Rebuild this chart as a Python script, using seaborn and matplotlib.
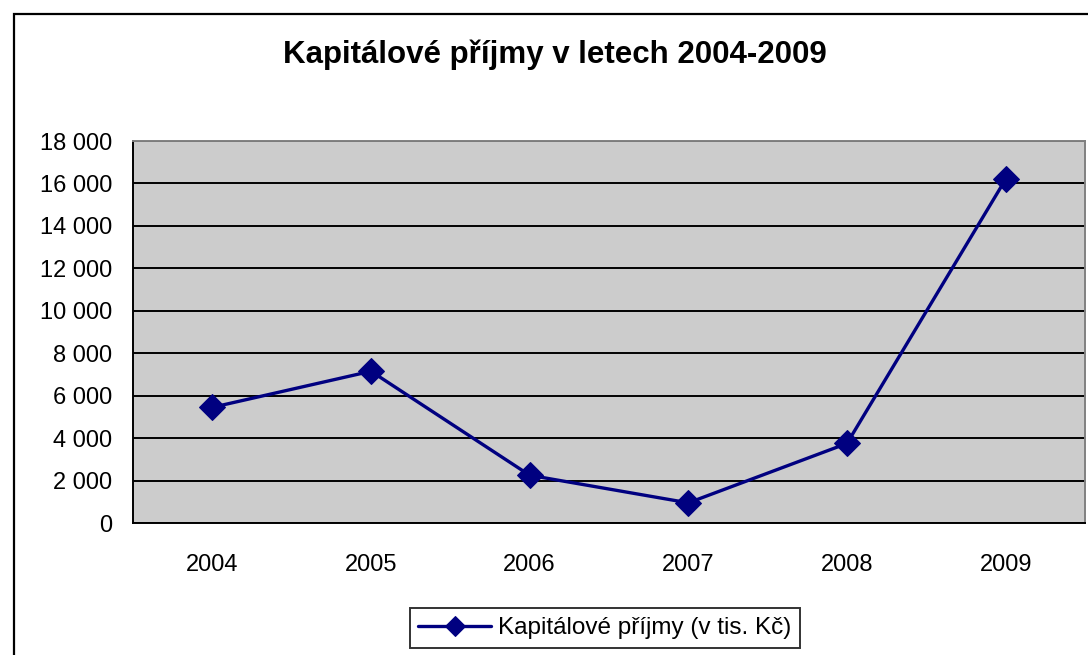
import numpy as np
import pandas as pd
import matplotlib
matplotlib.use("Agg")
import matplotlib.pyplot as plt
import seaborn as sns
from matplotlib.patches import Rectangle

# Data
years = ["2004", "2005", "2006", "2007", "2008", "2009"]
income = [5450, 7150, 2250, 950, 3750, 16200]
series_name = "Kapitálové příjmy (v tis. Kč)"
title = "Kapitálové příjmy v letech 2004-2009"
y_ticks = [0, 2000, 4000, 6000, 8000, 10000, 12000, 14000, 16000, 18000]

df = pd.DataFrame({"pos": np.arange(len(years)), "value": income, "serie": series_name})

sns.set_style("white")
plt.rcParams["font.family"] = ["Liberation Sans", "DejaVu Sans"]
plt.rcParams["text.color"] = "black"
plt.rcParams["xtick.color"] = "black"
plt.rcParams["ytick.color"] = "black"

fig = plt.figure(figsize=(10.88, 6.55), dpi=100)
ax = fig.add_axes([133 / 1088, 1 - 523 / 655, (1085 - 133) / 1088, (523 - 141) / 655])

# outer chart frame
fig.patches.append(Rectangle((14 / 1088, -0.05), 1.1, 1 - 14 / 655 + 0.05,
                             transform=fig.transFigure, fill=False,
                             edgecolor="black", linewidth=1.6, zorder=0))

ax.set_facecolor("#CCCCCC")
sns.lineplot(data=df, x="pos", y="value", hue="serie", palette=["#000080"],
             marker="D", markersize=13, markeredgecolor="#000080",
             linewidth=2.4, ax=ax, zorder=3)

ax.set_xlim(-0.5, len(years) - 0.5)
ax.set_ylim(0, 18000)
ax.set_yticks(y_ticks)
ax.set_yticklabels([f"{v:,}".replace(",", " ") for v in y_ticks], fontsize=17)
ax.set_xticks(np.arange(len(years)))
ax.set_xticklabels(years, fontsize=17)
ax.set_xticks(np.arange(-0.5, len(years), 1), minor=True)
ax.tick_params(axis="x", which="major", length=0, pad=22)
ax.tick_params(axis="x", which="minor", length=7, width=1.3, color="black", direction="out")
ax.tick_params(axis="y", length=6, width=1.3, color="black", direction="out", pad=9)
ax.set_xlabel("")
ax.set_ylabel("")

ax.yaxis.grid(True, color="black", linewidth=1.4)
ax.set_axisbelow(True)
for side in ["left", "bottom"]:
    ax.spines[side].set_color("black")
    ax.spines[side].set_linewidth(1.4)
for side in ["top", "right"]:
    ax.spines[side].set_color("#808080")
    ax.spines[side].set_linewidth(1.4)

fig.text(555 / 1088, 1 - 55 / 655, title, ha="center", va="center",
         fontsize=22.5, fontweight="bold", color="black")

leg = ax.legend(loc="center", bbox_to_anchor=(605 / 1088, 1 - 628 / 655),
                bbox_transform=fig.transFigure, fontsize=17.5, frameon=True,
                fancybox=False, edgecolor="black", handlelength=3.0,
                borderpad=0.35, handletextpad=0.3, markerscale=0.8)
leg.get_frame().set_linewidth(1.4)

fig.savefig("out.png", dpi=100)
